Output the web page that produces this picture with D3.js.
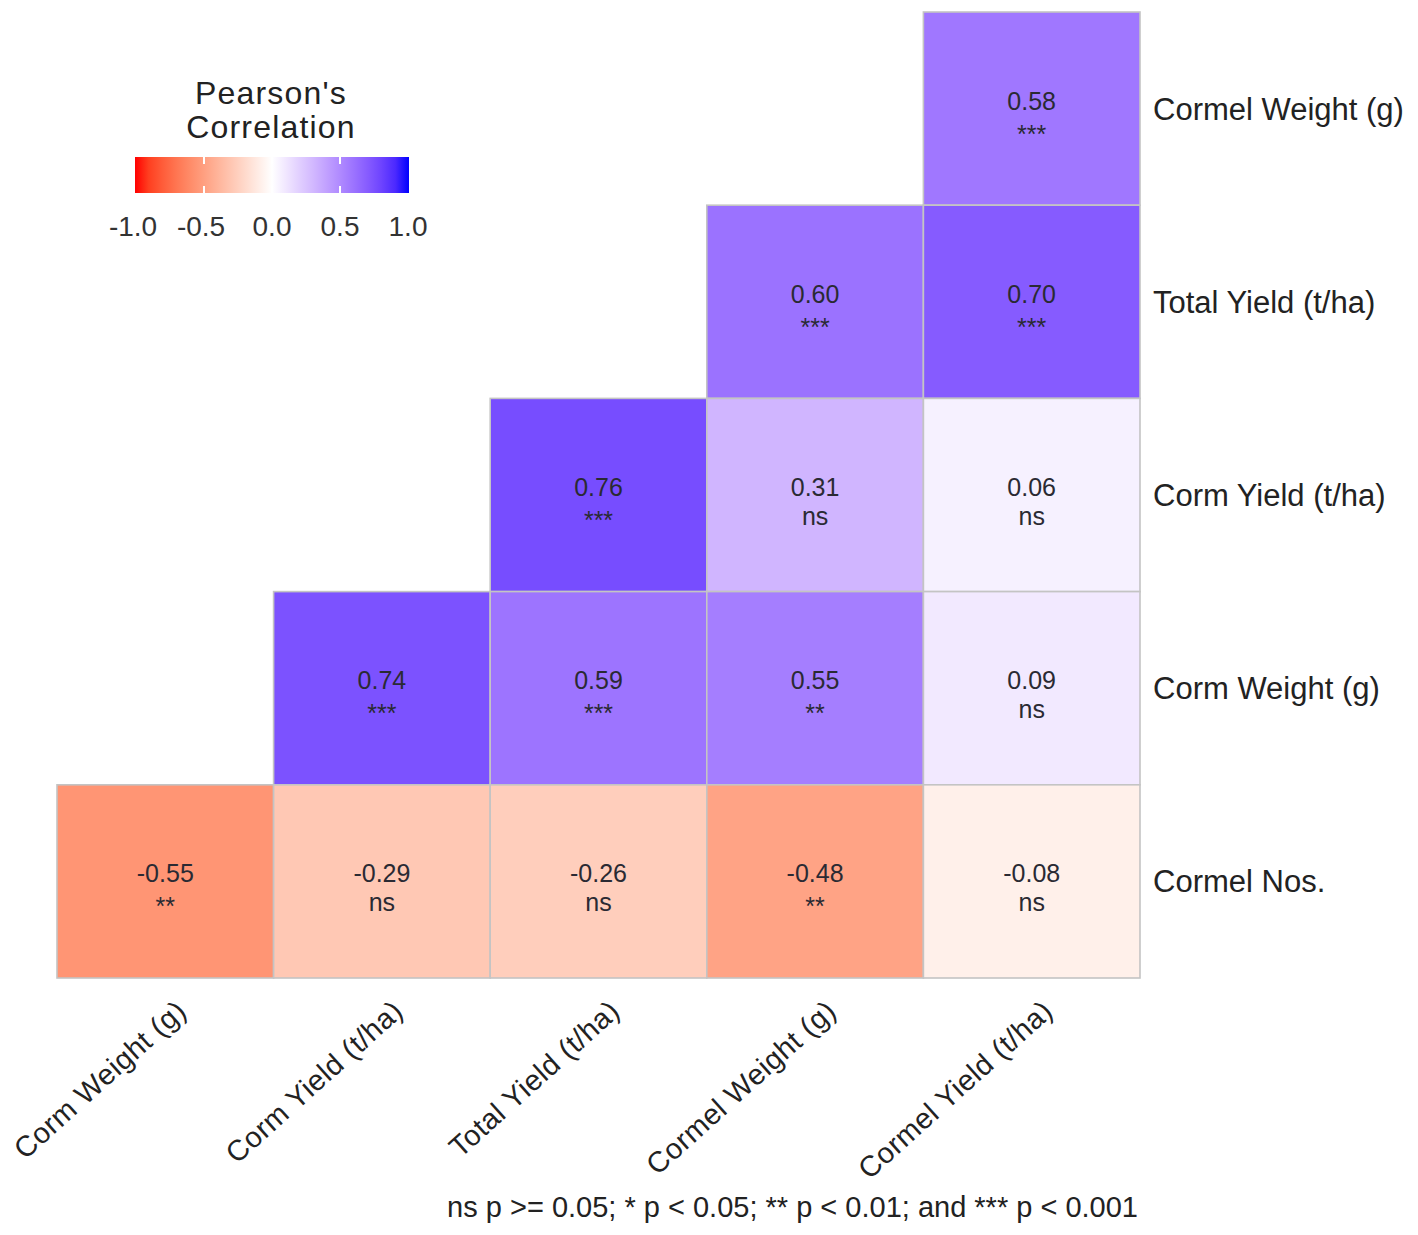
<!DOCTYPE html>
<html lang="en">
<head>
    <meta charset="UTF-8">
    <title>Pearson's Correlation Heatmap</title>
    <script src="https://d3js.org/d3.v7.min.js"></script>
    <style>
        body { margin: 0; background: #fff; }
        svg { display: block; font-family: "Liberation Sans", Arial, sans-serif; }
        .row-label, .col-label { fill: #222; }
        .cell-text { fill: #2a2a33; }
    </style>
</head>
<body>
<svg id="chart"></svg>
<script>
    // variables on each axis
    const colVars = ["Corm Weight (g)", "Corm Yield (t/ha)", "Total Yield (t/ha)", "Cormel Weight (g)", "Cormel Yield (t/ha)"];
    const rowVars = ["Cormel Weight (g)", "Total Yield (t/ha)", "Corm Yield (t/ha)", "Corm Weight (g)", "Cormel Nos."];

    // correlation coefficients, one row per rowVars entry (null = empty cell)
    const corrValues = [
        [null, null, null, null, 0.58],
        [null, null, null, 0.60, 0.70],
        [null, null, 0.76, 0.31, 0.06],
        [null, 0.74, 0.59, 0.55, 0.09],
        [-0.55, -0.29, -0.26, -0.48, -0.08]
    ];
    const sigLabels = [
        [null, null, null, null, "***"],
        [null, null, null, "***", "***"],
        [null, null, "***", "ns", "ns"],
        [null, "***", "***", "**", "ns"],
        ["**", "ns", "ns", "**", "ns"]
    ];

    const legendBreaks = [-1, -0.5, 0, 0.5, 1];
    const footnote = "ns p >= 0.05; * p < 0.05; ** p < 0.01; and *** p < 0.001";

    const W = 1418, H = 1235;
    const svg = d3.select("#chart").attr("width", W).attr("height", H);

    // plain hyphen for negatives, as in the original
    const loc = d3.formatLocale({ decimal: ".", thousands: ",", grouping: [3], currency: ["$", ""], minus: "-" });

    // build cell list from the arrays
    const cells = [];
    rowVars.forEach((r, i) => {
        colVars.forEach((c, j) => {
            if (corrValues[i][j] !== null) {
                cells.push({ row: r, col: c, value: corrValues[i][j], sig: sigLabels[i][j] });
            }
        });
    });

    const x = d3.scaleBand().domain(colVars).range([57, 1140]);
    const y = d3.scaleBand().domain(rowVars).range([12, 978]);

    // red - white - blue, interpolated in Lab like ggplot's gradient2
    const color = d3.scaleDiverging()
        .domain([-1, 0, 1])
        .interpolator(t => t < 0.5
            ? d3.interpolateLab("red", "white")(t * 2)
            : d3.interpolateLab("white", "blue")((t - 0.5) * 2));

    // tiles
    svg.append("g").selectAll("rect")
        .data(cells)
        .join("rect")
        .attr("x", d => x(d.col))
        .attr("y", d => y(d.row))
        .attr("width", x.bandwidth())
        .attr("height", y.bandwidth())
        .attr("fill", d => color(d.value))
        .attr("stroke", "#c4c4c4")
        .attr("stroke-width", 1.6);

    // value + significance labels
    const fmt = loc.format(".2f");
    const labels = svg.append("g").attr("class", "cell-text").attr("text-anchor", "middle").attr("font-size", 25);
    labels.selectAll("text.val")
        .data(cells)
        .join("text")
        .attr("class", "val")
        .attr("x", d => x(d.col) + x.bandwidth() / 2)
        .attr("y", d => y(d.row) + y.bandwidth() / 2 + 1)
        .text(d => fmt(d.value));
    labels.selectAll("text.sig")
        .data(cells)
        .join("text")
        .attr("class", "sig")
        .attr("x", d => x(d.col) + x.bandwidth() / 2)
        .attr("y", d => y(d.row) + y.bandwidth() / 2 + (d.sig === "ns" ? 30 : 34))
        .text(d => d.sig);

    // right-hand row labels
    svg.append("g").selectAll("text")
        .data(rowVars)
        .join("text")
        .attr("class", "row-label")
        .attr("x", 1153)
        .attr("y", d => y(d) + y.bandwidth() / 2 + 11)
        .attr("font-size", 31)
        .text(d => d);

    // rotated column labels
    svg.append("g").selectAll("text")
        .data(colVars)
        .join("text")
        .attr("class", "col-label")
        .attr("transform", d => `translate(${x(d) + x.bandwidth() / 2 + 9},${998}) rotate(-42)`)
        .attr("text-anchor", "end")
        .attr("dy", "0.72em")
        .attr("font-size", 29)
        .attr("letter-spacing", 0.5)
        .text(d => d);

    // legend
    const legX = d3.scaleLinear().domain([-1, 1]).range([136, 408]);
    const legend = svg.append("g");
    legend.append("text")
        .attr("text-anchor", "middle").attr("font-size", 32).attr("letter-spacing", 1.2).attr("fill", "#222")
        .selectAll("tspan")
        .data(["Pearson's", "Correlation"])
        .join("tspan")
        .attr("x", 271)
        .attr("y", (d, i) => 104 + i * 34)
        .text(d => d);

    const grad = svg.append("defs").append("linearGradient").attr("id", "legGrad");
    d3.range(0, 1.0001, 0.05).forEach(t => {
        grad.append("stop").attr("offset", t).attr("stop-color", color(-1 + 2 * t));
    });
    legend.append("rect")
        .attr("x", legX(-1) - 1).attr("y", 157)
        .attr("width", legX(1) - legX(-1) + 2).attr("height", 36)
        .attr("fill", "url(#legGrad)");
    legend.selectAll("line.tk-top")
        .data(legendBreaks.slice(1, -1))
        .join("line")
        .attr("x1", d => legX(d)).attr("x2", d => legX(d))
        .attr("y1", 157).attr("y2", 164)
        .attr("stroke", "#fff").attr("stroke-width", 2);
    legend.selectAll("line.tk-bot")
        .data(legendBreaks.slice(1, -1))
        .join("line")
        .attr("x1", d => legX(d)).attr("x2", d => legX(d))
        .attr("y1", 186).attr("y2", 193)
        .attr("stroke", "#fff").attr("stroke-width", 2);
    legend.selectAll("text.tk")
        .data(legendBreaks)
        .join("text")
        .attr("class", "tk")
        .attr("x", d => legX(d) - (d < 0 ? 3 : 0))
        .attr("y", 236)
        .attr("text-anchor", "middle")
        .attr("font-size", 28)
        .attr("fill", "#333")
        .text(d => loc.format(".1f")(d));

    // footnote caption
    svg.append("text")
        .attr("x", 1138).attr("y", 1217)
        .attr("text-anchor", "end")
        .attr("font-size", 29)
        .attr("fill", "#222")
        .text(footnote);
</script>
</body>
</html>
